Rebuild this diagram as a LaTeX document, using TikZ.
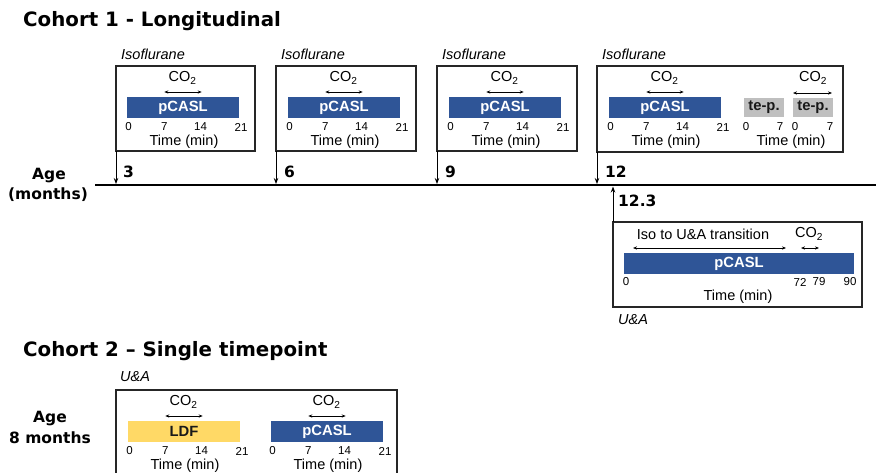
\documentclass[tikz,border=0pt]{standalone}
\usepackage{fontspec}
\setmainfont{Liberation Sans}
\newfontfamily\heavy{DejaVu Sans Bold}
\usetikzlibrary{arrows.meta}
\definecolor{barblue}{HTML}{2F5597}
\definecolor{baryellow}{HTML}{FFD966}
\definecolor{bargray}{HTML}{BFBFBF}
\tikzset{
  frame/.style={draw=black!85, line width=1.2pt, inner sep=0pt, outer sep=0pt},
  barbase/.style={inner sep=0pt, outer sep=0pt, font=\bfseries\fontsize{14.8}{15}\selectfont},
  bluebar/.style={barbase, fill=barblue, text=white},
  yellowbar/.style={barbase, fill=baryellow, text=black!90},
  graybar/.style={barbase, fill=bargray, text=black!90},
  tick/.style={font=\fontsize{11.5}{12}\selectfont, inner sep=0pt},
  lbl/.style={font=\fontsize{14.5}{15}\selectfont, inner sep=0pt},
  ital/.style={font=\itshape\fontsize{14.5}{15}\selectfont, inner sep=0pt, anchor=west},
  heavytxt/.style={font=\heavy\fontsize{15.5}{17}\selectfont, inner sep=0pt},
  title/.style={font=\heavy\fontsize{19.8}{20}\selectfont, inner sep=0pt, anchor=west},
  co2arrow/.style={{Stealth[length=4pt,width=3.2pt]}-{Stealth[length=4pt,width=3.2pt]}, line width=0.8pt},
  agearrow/.style={-{Stealth[length=6pt,width=4.5pt]}, line width=1pt},
  timeline/.style={line width=2.2pt},
}
% #1 name, #2 bar left x, #3 bar top y, #4 bar style, #5 bar label
\newcommand\mkpanel[5]{%
  \node[#4, minimum width=112pt, minimum height=21pt] (#1bar) at (#2+56,#3+10.5) {#5};
  \node[lbl] (#1co) at (#2+55.5,#3-19) {CO\textsubscript{2}};
  \coordinate (#1a) at (#2+37.3,#3-5);
  \coordinate (#1b) at (#2+74.7,#3-5);
  \draw[co2arrow] (#1a) -- (#1b);
  \node[tick] (#1ta) at (#2+1.5,#3+30) {0};
  \node[tick] (#1tb) at (#2+37.3,#3+30) {7};
  \node[tick] (#1tc) at (#2+73.5,#3+30) {14};
  \node[tick] (#1td) at (#2+114,#3+30) {21};
  \node[lbl] (#1time) at (#2+57,#3+45) {Time (min)};
}
\begin{document}
\begin{tikzpicture}[x=1pt,y=-1pt]
\useasboundingbox (0,0) rectangle (876,472);
\clip (0,0) rectangle (876,472);

% titles
\node[title] (t1) at (23,21) {Cohort 1 - Longitudinal};
\node[title] (t2) at (23,351) {Cohort 2 – Single timepoint};

% age labels
\node[heavytxt] (age1) at (49,176) {Age};
\node[heavytxt] (mon1) at (48,195) {(months)};
\node[heavytxt] (age2) at (50,419) {Age};
\node[heavytxt] (mon2) at (50,438) {8 months};

% timeline
\coordinate (tlA) at (95,185);
\coordinate (tlB) at (876,185);
\draw[timeline] (tlA) -- (tlB);

% cohort 1 boxes
\node[frame, minimum width=139pt, minimum height=85pt] (box1) at (185.5,108.5) {};
\node[frame, minimum width=140pt, minimum height=85pt] (box2) at (346,108.5) {};
\node[frame, minimum width=140pt, minimum height=85pt] (box3) at (507,108.5) {};
\node[frame, minimum width=246pt, minimum height=86pt] (box4) at (720,109) {};

\node[ital] (iso1) at (121,54) {Isoflurane};
\node[ital] (iso2) at (281,54) {Isoflurane};
\node[ital] (iso3) at (442,54) {Isoflurane};
\node[ital] (iso4) at (602,54) {Isoflurane};

\mkpanel{pA}{127}{97}{bluebar}{pCASL}
\mkpanel{pB}{288}{97}{bluebar}{pCASL}
\mkpanel{pC}{449}{97}{bluebar}{pCASL}
\mkpanel{pD}{609}{97}{bluebar}{pCASL}

% te-p bars in box 4
\node[graybar, minimum width=40pt, minimum height=19pt] (te1) at (764,107.5) {te-p.};
\node[graybar, minimum width=40pt, minimum height=19pt] (te2) at (813,107.5) {te-p.};
\node[tick] (te1a) at (746,127) {0};
\node[tick] (te1b) at (780,127) {7};
\node[tick] (te2a) at (795,127) {0};
\node[tick] (te2b) at (830,127) {7};
\node[lbl] (te2time) at (791,142) {Time (min)};
\node[lbl] (te2co) at (813,78) {CO\textsubscript{2}};
\coordinate (te2l) at (793,93);
\coordinate (te2r) at (832,93);
\draw[co2arrow] (te2l) -- (te2r);

% age arrows
\coordinate (a1) at (116,184);
\coordinate (a2) at (276,184);
\coordinate (a3) at (437,184);
\coordinate (a4) at (597,184);
\draw[agearrow] (box1.south west) -- (a1);
\draw[agearrow] (box2.south west) -- (a2);
\draw[agearrow] (box3.south west) -- (a3);
\draw[agearrow] (box4.south west) -- (a4);
\node[heavytxt, anchor=west] (n3) at (123,172) {3};
\node[heavytxt, anchor=west] (n6) at (284,172) {6};
\node[heavytxt, anchor=west] (n9) at (445,172) {9};
\node[heavytxt, anchor=west] (n12) at (605,172) {12};

% 12.3 box
\node[frame, minimum width=249pt, minimum height=85pt] (box5) at (737.5,264.5) {};
\coordinate (a5) at (613,186.5);
\draw[agearrow] (box5.north west) -- (a5);
\node[heavytxt, anchor=west] (n123) at (618,201) {12.3};
\node[lbl] (isotr) at (703,234) {Iso to U\&A transition};
\coordinate (isoL) at (633,248);
\coordinate (isoR) at (786,248);
\draw[co2arrow] (isoL) -- (isoR);
\node[lbl] (p5co) at (809,234) {CO\textsubscript{2}};
\coordinate (p5L) at (801,248);
\coordinate (p5R) at (819,248);
\draw[co2arrow] (p5L) -- (p5R);
\node[bluebar, minimum width=230pt, minimum height=21pt] (p5bar) at (739,263.5) {pCASL};
\node[tick] (p5t0) at (626,282) {0};
\node[tick] (p5t72) at (800,282) {72};
\node[tick] (p5t79) at (819,282) {79};
\node[tick] (p5t90) at (850,282) {90};
\node[lbl] (p5time) at (738,297) {Time (min)};
\node[ital] (ua1) at (618,320) {U\&A};

% cohort 2
\node[ital] (ua2) at (120,377) {U\&A};
\node[frame, minimum width=281pt, minimum height=110pt] (box6) at (256.5,445) {};
\mkpanel{pE}{128}{421}{yellowbar}{LDF}
\mkpanel{pF}{271}{421}{bluebar}{pCASL}
\end{tikzpicture}
\end{document}
